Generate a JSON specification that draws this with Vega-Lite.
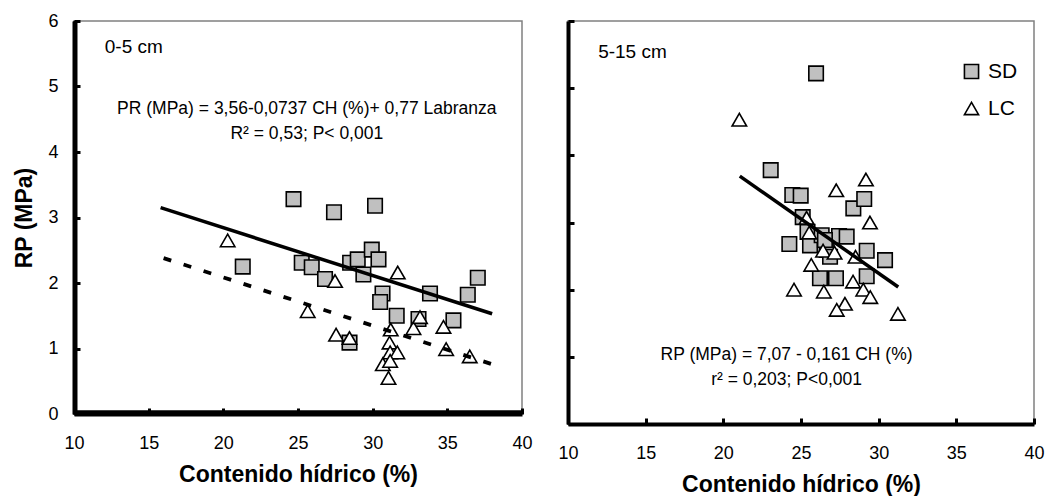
{
  "$schema": "https://vega.github.io/schema/vega-lite/v6.json",
  "background": "white",
  "padding": {"left": 13, "top": 11, "right": 5, "bottom": 0},
  "spacing": 24,
  "datasets": {
    "points": [
      {"panel": "a", "Labranza": "SD", "x": 24.70, "y": 3.28},
      {"panel": "a", "Labranza": "SD", "x": 27.41, "y": 3.08},
      {"panel": "a", "Labranza": "SD", "x": 30.16, "y": 3.18},
      {"panel": "a", "Labranza": "SD", "x": 21.30, "y": 2.25},
      {"panel": "a", "Labranza": "SD", "x": 25.25, "y": 2.31},
      {"panel": "a", "Labranza": "SD", "x": 25.92, "y": 2.24},
      {"panel": "a", "Labranza": "SD", "x": 26.81, "y": 2.06},
      {"panel": "a", "Labranza": "SD", "x": 28.49, "y": 2.31},
      {"panel": "a", "Labranza": "SD", "x": 29.00, "y": 2.36},
      {"panel": "a", "Labranza": "SD", "x": 29.94, "y": 2.51},
      {"panel": "a", "Labranza": "SD", "x": 30.39, "y": 2.36},
      {"panel": "a", "Labranza": "SD", "x": 29.38, "y": 2.13},
      {"panel": "a", "Labranza": "SD", "x": 30.66, "y": 1.84},
      {"panel": "a", "Labranza": "SD", "x": 30.50, "y": 1.71},
      {"panel": "a", "Labranza": "SD", "x": 31.61, "y": 1.50},
      {"panel": "a", "Labranza": "SD", "x": 33.07, "y": 1.45},
      {"panel": "a", "Labranza": "SD", "x": 33.84, "y": 1.84},
      {"panel": "a", "Labranza": "SD", "x": 35.41, "y": 1.43},
      {"panel": "a", "Labranza": "SD", "x": 36.37, "y": 1.82},
      {"panel": "a", "Labranza": "SD", "x": 37.04, "y": 2.08},
      {"panel": "a", "Labranza": "SD", "x": 28.45, "y": 1.09},
      {"panel": "a", "Labranza": "LC", "x": 20.29, "y": 2.65},
      {"panel": "a", "Labranza": "LC", "x": 25.65, "y": 1.57},
      {"panel": "a", "Labranza": "LC", "x": 27.48, "y": 2.03},
      {"panel": "a", "Labranza": "LC", "x": 27.55, "y": 1.21},
      {"panel": "a", "Labranza": "LC", "x": 28.45, "y": 1.16},
      {"panel": "a", "Labranza": "LC", "x": 31.68, "y": 2.16},
      {"panel": "a", "Labranza": "LC", "x": 31.21, "y": 1.29},
      {"panel": "a", "Labranza": "LC", "x": 32.73, "y": 1.31},
      {"panel": "a", "Labranza": "LC", "x": 33.17, "y": 1.48},
      {"panel": "a", "Labranza": "LC", "x": 34.74, "y": 1.33},
      {"panel": "a", "Labranza": "LC", "x": 31.13, "y": 1.09},
      {"panel": "a", "Labranza": "LC", "x": 31.17, "y": 0.94},
      {"panel": "a", "Labranza": "LC", "x": 31.65, "y": 0.94},
      {"panel": "a", "Labranza": "LC", "x": 30.68, "y": 0.76},
      {"panel": "a", "Labranza": "LC", "x": 31.17, "y": 0.81},
      {"panel": "a", "Labranza": "LC", "x": 31.06, "y": 0.55},
      {"panel": "a", "Labranza": "LC", "x": 34.92, "y": 0.99},
      {"panel": "a", "Labranza": "LC", "x": 36.50, "y": 0.88},
      {"panel": "b", "Labranza": "SD", "x": 25.97, "y": 5.22},
      {"panel": "b", "Labranza": "SD", "x": 23.05, "y": 3.78},
      {"panel": "b", "Labranza": "SD", "x": 24.44, "y": 3.41},
      {"panel": "b", "Labranza": "SD", "x": 24.98, "y": 3.40},
      {"panel": "b", "Labranza": "SD", "x": 25.11, "y": 3.08},
      {"panel": "b", "Labranza": "SD", "x": 28.37, "y": 3.21},
      {"panel": "b", "Labranza": "SD", "x": 29.07, "y": 3.35},
      {"panel": "b", "Labranza": "SD", "x": 24.25, "y": 2.68},
      {"panel": "b", "Labranza": "SD", "x": 25.42, "y": 2.86},
      {"panel": "b", "Labranza": "SD", "x": 25.58, "y": 2.66},
      {"panel": "b", "Labranza": "SD", "x": 26.33, "y": 2.81},
      {"panel": "b", "Labranza": "SD", "x": 27.45, "y": 2.80},
      {"panel": "b", "Labranza": "SD", "x": 27.94, "y": 2.79},
      {"panel": "b", "Labranza": "SD", "x": 26.65, "y": 2.59},
      {"panel": "b", "Labranza": "SD", "x": 26.87, "y": 2.49},
      {"panel": "b", "Labranza": "SD", "x": 29.23, "y": 2.58},
      {"panel": "b", "Labranza": "SD", "x": 30.41, "y": 2.44},
      {"panel": "b", "Labranza": "SD", "x": 29.23, "y": 2.20},
      {"panel": "b", "Labranza": "SD", "x": 26.22, "y": 2.17},
      {"panel": "b", "Labranza": "SD", "x": 27.25, "y": 2.17},
      {"panel": "b", "Labranza": "SD", "x": 26.54, "y": 2.74},
      {"panel": "b", "Labranza": "LC", "x": 21.03, "y": 4.53},
      {"panel": "b", "Labranza": "LC", "x": 29.18, "y": 3.64},
      {"panel": "b", "Labranza": "LC", "x": 27.27, "y": 3.48},
      {"panel": "b", "Labranza": "LC", "x": 29.44, "y": 3.00},
      {"panel": "b", "Labranza": "LC", "x": 25.36, "y": 3.07},
      {"panel": "b", "Labranza": "LC", "x": 25.53, "y": 2.85},
      {"panel": "b", "Labranza": "LC", "x": 26.42, "y": 2.58},
      {"panel": "b", "Labranza": "LC", "x": 27.16, "y": 2.55},
      {"panel": "b", "Labranza": "LC", "x": 28.51, "y": 2.49},
      {"panel": "b", "Labranza": "LC", "x": 25.66, "y": 2.37},
      {"panel": "b", "Labranza": "LC", "x": 28.35, "y": 2.12},
      {"panel": "b", "Labranza": "LC", "x": 29.01, "y": 2.00},
      {"panel": "b", "Labranza": "LC", "x": 29.46, "y": 1.89},
      {"panel": "b", "Labranza": "LC", "x": 24.55, "y": 2.00},
      {"panel": "b", "Labranza": "LC", "x": 26.47, "y": 1.97},
      {"panel": "b", "Labranza": "LC", "x": 27.83, "y": 1.79},
      {"panel": "b", "Labranza": "LC", "x": 27.30, "y": 1.70},
      {"panel": "b", "Labranza": "LC", "x": 31.24, "y": 1.64}
    ],
    "lines": [
      {"panel": "a", "Labranza": "SD", "x": 15.8, "y": 3.15},
      {"panel": "a", "Labranza": "SD", "x": 38.0, "y": 1.53},
      {"panel": "a", "Labranza": "LC", "x": 16.0, "y": 2.38},
      {"panel": "a", "Labranza": "LC", "x": 38.0, "y": 0.76},
      {"panel": "b", "Labranza": "SD", "x": 21.06, "y": 3.69},
      {"panel": "b", "Labranza": "SD", "x": 31.26, "y": 2.04}
    ],
    "notes": [
      {"panel": "a", "kind": "depth", "x": 12.06, "y": 5.60, "label": "0-5 cm"},
      {"panel": "a", "kind": "eq", "x": 25.59, "y": 4.65, "label": "PR (MPa) = 3,56-0,0737 CH (%)+ 0,77 Labranza"},
      {"panel": "a", "kind": "eq", "x": 25.59, "y": 4.27, "label": "R² = 0,53; P< 0,001"},
      {"panel": "b", "kind": "depth", "x": 11.94, "y": 5.54, "label": "5-15 cm"},
      {"panel": "b", "kind": "eq", "x": 24.07, "y": 1.03, "label": "RP (MPa) = 7,07 - 0,161 CH (%)"},
      {"panel": "b", "kind": "eq", "x": 24.07, "y": 0.65, "label": "r² = 0,203; P<0,001"}
    ]
  },
  "hconcat": [
    {
      "width": 448,
      "height": 393,
      "encoding": {
        "x": {"field": "x", "type": "quantitative", "scale": {"domain": [10, 40], "nice": false, "zero": false},
              "axis": {"values": [10, 15, 20, 25, 30, 35, 40], "title": "Contenido hídrico (%)", "domain": true, "domainWidth": 4, "domainColor": "#000000", "zindex": 2}},
        "y": {"field": "y", "type": "quantitative", "scale": {"domain": [0, 6], "nice": false},
              "axis": {"values": [0, 1, 2, 3, 4, 5, 6], "title": "RP (MPa)", "domain": true, "domainWidth": 4, "domainColor": "#000000", "zindex": 2}}
      },
      "layer": [
        {
          "data": {"name": "points"},
          "transform": [{"filter": "datum.panel === 'a'"}],
          "mark": {"type": "point", "filled": true, "stroke": "black", "strokeWidth": 1.6, "opacity": 1},
          "encoding": {
            "fill": {"field": "Labranza", "type": "nominal", "scale": {"domain": ["SD", "LC"], "range": ["#c0c0c0", "#ffffff"]}, "legend": null},
            "shape": {"field": "Labranza", "type": "nominal", "scale": {"domain": ["SD", "LC"], "range": ["square", "triangle-up"]}, "legend": null}
          }
        },
        {
          "data": {"name": "lines"},
          "transform": [{"filter": "datum.panel === 'a' && datum.Labranza === 'SD'"}],
          "mark": {"type": "line", "color": "black", "strokeWidth": 3.5},
          "encoding": {}
        },
        {
          "data": {"name": "lines"},
          "transform": [{"filter": "datum.panel === 'a' && datum.Labranza === 'LC'"}],
          "mark": {"type": "line", "color": "black", "strokeWidth": 3.8, "strokeDash": [8, 13]},
          "encoding": {}
        },
        {
          "data": {"name": "notes"},
          "transform": [{"filter": "datum.panel === 'a' && datum.kind === 'depth'"}],
          "mark": {"type": "text", "align": "left", "baseline": "middle", "font": "Liberation Sans", "fontSize": 19, "color": "black"},
          "encoding": {"text": {"field": "label"}}
        },
        {
          "data": {"name": "notes"},
          "transform": [{"filter": "datum.panel === 'a' && datum.kind === 'eq'"}],
          "mark": {"type": "text", "align": "center", "baseline": "middle", "font": "Liberation Sans", "fontSize": 17.5, "color": "black"},
          "encoding": {"text": {"field": "label"}}
        },
        {
          "data": {"name": "notes"},
          "transform": [{"filter": "datum.panel === 'a' && datum.kind === 'depth'"}],
          "mark": {"type": "rule", "color": "#000000", "strokeWidth": 4, "clip": false},
          "encoding": {"x": {"datum": 10.1}, "y": {"datum": 0}, "y2": {"datum": 6}}
        },
        {
          "data": {"name": "notes"},
          "transform": [{"filter": "datum.panel === 'a' && datum.kind === 'depth'"}],
          "mark": {"type": "rule", "color": "#000000", "strokeWidth": 4, "clip": false},
          "encoding": {"y": {"datum": 0.025}, "x": {"datum": 10}, "x2": {"datum": 40}}
        }
      ]
    },
    {
      "width": 466,
      "height": 403,
      "encoding": {
        "x": {"field": "x", "type": "quantitative", "scale": {"domain": [10, 40], "nice": false, "zero": false},
              "axis": {"values": [10, 15, 20, 25, 30, 35, 40], "title": "Contenido hídrico (%)", "domainWidth": 4, "domainColor": "#000000", "zindex": 2}},
        "y": {"field": "y", "type": "quantitative", "scale": {"domain": [0, 6], "nice": false},
              "axis": {"values": [0, 1, 2, 3, 4, 5, 6], "title": null, "labels": false, "domainWidth": 4, "domainColor": "#000000", "zindex": 2}}
      },
      "layer": [
        {
          "data": {"name": "points"},
          "transform": [{"filter": "datum.panel === 'b'"}],
          "mark": {"type": "point", "filled": true, "stroke": "black", "strokeWidth": 1.6, "opacity": 1},
          "encoding": {
            "fill": {"field": "Labranza", "type": "nominal", "scale": {"domain": ["SD", "LC"], "range": ["#c0c0c0", "#ffffff"]},
                     "legend": {"orient": "none", "legendX": 393, "legendY": 40, "title": null}},
            "shape": {"field": "Labranza", "type": "nominal", "scale": {"domain": ["SD", "LC"], "range": ["square", "triangle-up"]},
                      "legend": {"orient": "none", "legendX": 393, "legendY": 40, "title": null}},
            "stroke": {"field": "Labranza", "type": "nominal", "scale": {"domain": ["SD", "LC"], "range": ["#000000", "#000000"]},
                       "legend": {"orient": "none", "legendX": 393, "legendY": 40, "title": null}}
          }
        },
        {
          "data": {"name": "lines"},
          "transform": [{"filter": "datum.panel === 'b'"}],
          "mark": {"type": "line", "color": "black", "strokeWidth": 3.5},
          "encoding": {}
        },
        {
          "data": {"name": "notes"},
          "transform": [{"filter": "datum.panel === 'b' && datum.kind === 'depth'"}],
          "mark": {"type": "text", "align": "left", "baseline": "middle", "font": "Liberation Sans", "fontSize": 19, "color": "black"},
          "encoding": {"text": {"field": "label"}}
        },
        {
          "data": {"name": "notes"},
          "transform": [{"filter": "datum.panel === 'b' && datum.kind === 'eq'"}],
          "mark": {"type": "text", "align": "center", "baseline": "middle", "font": "Liberation Sans", "fontSize": 17.5, "color": "black"},
          "encoding": {"text": {"field": "label"}}
        }
      ]
    }
  ],
  "resolve": {
    "scale": {"x": "independent", "y": "independent", "fill": "independent", "shape": "independent", "stroke": "independent"},
    "legend": {"fill": "independent", "shape": "independent", "stroke": "independent"}
  },
  "config": {
    "font": "Liberation Sans",
    "view": {"stroke": "#808080", "strokeWidth": 1.5},
    "point": {"size": 210},
    "axis": {
      "domain": true, "domainColor": "#000000", "domainWidth": 4, "tickColor": "#000000", "tickWidth": 3, "tickSize": -6,
      "grid": false, "labelFont": "Liberation Sans", "labelFontSize": 18, "labelColor": "black",
      "titleFont": "Liberation Sans", "titleFontSize": 23, "titleFontWeight": "bold", "titleColor": "black",
      "labelFlush": false, "labelOverlap": false
    },
    "axisX": {"labelPadding": 26, "titlePadding": 11},
    "axisY": {"labelPadding": 22, "titlePadding": 11},
    "legend": {
      "labelFont": "Liberation Sans", "labelFontSize": 21, "labelColor": "black",
      "symbolStrokeColor": "black", "symbolStrokeWidth": 1.6, "symbolSize": 200,
      "rowPadding": 15, "labelOffset": 6, "padding": 0
    }
  }
}
